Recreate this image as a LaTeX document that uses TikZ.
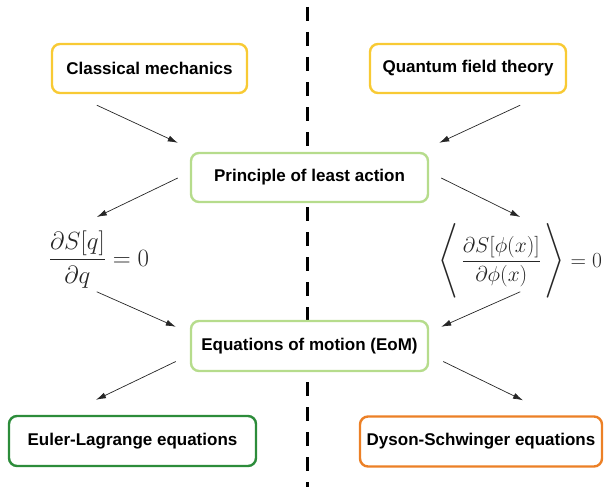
\RequirePackage{fix-cm}
\documentclass[tikz,border=0pt]{standalone}
\usepackage[no-math]{fontspec}
\newfontfamily\labelfont{Liberation Sans}
\usepackage{amsmath}
\usepackage{xcolor}
\usetikzlibrary{arrows.meta, calc}

\definecolor{boxyellow}{RGB}{248,202,52}
\definecolor{boxlime}{RGB}{182,220,140}
\definecolor{boxgreen}{RGB}{44,140,58}
\definecolor{boxorange}{RGB}{236,128,38}

\newcommand{\bigbrack}[1]{\text{\fontsize{26}{30}\selectfont$\Bigg#1$}}

\begin{document}
\begin{tikzpicture}[
  x=1pt, y=-1pt,
  box/.style={
    rectangle, rounded corners=8pt, fill=white, line width=2.4pt,
    minimum height=49pt, inner sep=0pt,
    font=\labelfont\bfseries\fontsize{17}{20}\selectfont
  },
  eq/.style={text=black!85, inner sep=0pt, anchor=base},
  arr/.style={-{Latex[length=10pt,width=6pt]}, line width=0.7pt, draw=black!85},
  divider/.style={line width=2.8pt, dash pattern=on 14pt off 11pt}
]
\useasboundingbox (0,0) rectangle (605,487);

% -- Separador -------------------------------------------------
\draw[divider] (307.7,7) -- (307.7,487);

% -- Fila superior ---------------------------------------------
\node[box, draw=boxyellow, minimum width=195pt] (CM)  at (149.5,68.5) {Classical mechanics};
\node[box, draw=boxyellow, minimum width=196pt] (QFT) at (468,68.5)   {Quantum field theory};

% -- Nodos centrales -------------------------------------------
\node[box, draw=boxlime, minimum width=237pt] (PLA) at (309.5,177.5) {Principle of least action};
\node[box, draw=boxlime, minimum width=237pt, minimum height=50pt] (EoM) at (309.5,346) {Equations of motion (EoM)};

% -- Ecuaciones ------------------------------------------------
\node[eq, font=\fontsize{24.88}{30}\selectfont] (Lq) at (99,266)
  {$\displaystyle \frac{\partial S[q]}{\partial q} = 0$};
\node[eq, font=\fontsize{21.5}{26}\selectfont] (Rq) at (520,267)
  {$\displaystyle \bigbrack\langle\,\frac{\partial S[\phi(x)]}{\partial \phi(x)}\,\bigbrack\rangle = 0$};

% -- Fila inferior ---------------------------------------------
\node[box, draw=boxgreen,  minimum width=247pt, minimum height=50pt] (EL) at (132.5,441) {Euler-Lagrange equations};
\node[box, draw=boxorange, minimum width=242pt, minimum height=50pt] (DS) at (481,441.5) {Dyson-Schwinger equations};

% -- Flechas ---------------------------------------------------
\draw[arr] ($(CM.south west)+(46,11)$)   -- ($(PLA.north west)+(-12,-9)$);
\draw[arr] ($(QFT.south east)+(-47,11)$) -- ($(PLA.north east)+(10,-9)$);

\draw[arr] ($(PLA.west)+(-12,0.5)$) -- ($(PLA.west)+(-93,39.5)$);
\draw[arr] ($(PLA.east)+(12,0.5)$)  -- ($(PLA.east)+(91,39.5)$);

\draw[arr] ($(EoM.north west)+(-93,-28)$) -- ($(EoM.north west)+(-14,7)$);
\draw[arr] ($(EoM.north east)+(91,-28)$)  -- ($(EoM.north east)+(12,7)$);

\draw[arr] ($(EoM.west)+(-14,15.5)$) -- ($(EL.north)+(-36.5,-15)$);
\draw[arr] ($(EoM.east)+(14,15.5)$)  -- ($(DS.north)+(42,-15)$);

\end{tikzpicture}
\end{document}
